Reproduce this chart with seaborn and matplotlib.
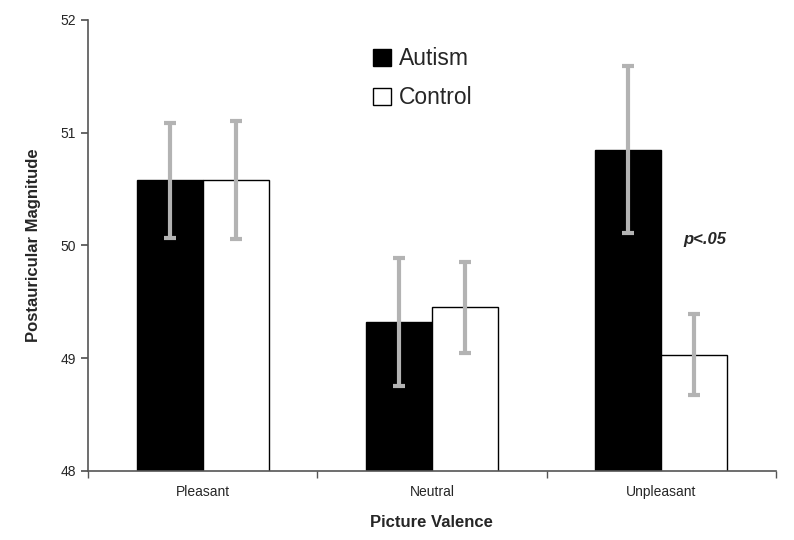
import matplotlib
matplotlib.use("Agg")
import matplotlib.pyplot as plt
from matplotlib.patches import Patch
import seaborn as sns
import pandas as pd

# values
valence = ["Pleasant", "Neutral", "Unpleasant"]
groups = ["Autism", "Control"]
autism_mean = [50.58, 49.32, 50.85]
control_mean = [50.58, 49.45, 49.03]
autism_err = [0.51, 0.57, 0.74]
control_err = [0.52, 0.40, 0.36]

df = pd.DataFrame({
    "Valence": valence * 2,
    "Group": ["Autism"] * 3 + ["Control"] * 3,
    "Magnitude": autism_mean + control_mean,
    "Err": autism_err + control_err,
})

sns.set_theme(style="white")
plt.rcParams["font.family"] = ["Liberation Sans", "DejaVu Sans"]

fig = plt.figure(figsize=(7.94, 5.40), dpi=100)
ax = fig.add_axes([0.111, 0.128, 0.866, 0.835])

sns.barplot(data=df, x="Valence", y="Magnitude", hue="Group",
            palette={"Autism": "black", "Control": "white"},
            edgecolor="black", linewidth=1, width=0.576,
            errorbar=None, legend=False, ax=ax)

# grey error bars on the bar centres
for bars, g in zip(ax.containers, groups):
    sub = df[df["Group"] == g]
    xs = [b.get_x() + b.get_width() / 2 for b in bars]
    ax.errorbar(xs, sub["Magnitude"], yerr=sub["Err"], fmt="none",
                ecolor="#b3b3b3", elinewidth=3, capsize=4, capthick=3, zorder=5)

ax.set_ylim(48, 52)
ax.set_xlim(-0.5, 2.5)
ax.set_yticks([48, 49, 50, 51, 52])
ax.set_xticks([0, 1, 2])
ax.set_xticks([-0.5, 0.5, 1.5, 2.5], minor=True)
ax.tick_params(axis="x", which="major", length=0, labelsize=10, pad=10)
ax.tick_params(axis="x", which="minor", length=5, color="#555555", direction="out")
ax.tick_params(axis="y", length=5, color="#555555", direction="out", labelsize=10, pad=4)
ax.yaxis.set_ticks_position("left")
ax.xaxis.set_ticks_position("bottom")

for s in ["top", "right"]:
    ax.spines[s].set_visible(False)
for s in ["left", "bottom"]:
    ax.spines[s].set_color("#555555")
    ax.spines[s].set_linewidth(1.2)

ax.set_xlabel("Picture Valence", fontsize=12, fontweight="bold", labelpad=12)
ax.set_ylabel("Postauricular Magnitude", fontsize=12, fontweight="bold", labelpad=14)

ax.text(2.19, 50.05, "p<.05", fontsize=12, fontweight="bold", style="italic",
        ha="center", va="center")

handles = [Patch(facecolor="black", edgecolor="black"),
           Patch(facecolor="white", edgecolor="black")]
ax.legend(handles, groups, loc="upper left", bbox_to_anchor=(0.385, 0.985),
          frameon=False, fontsize=16.5, handlelength=0.75, handleheight=0.75,
          handletextpad=0.35, labelspacing=0.7)

fig.savefig("out.png", dpi=100)
